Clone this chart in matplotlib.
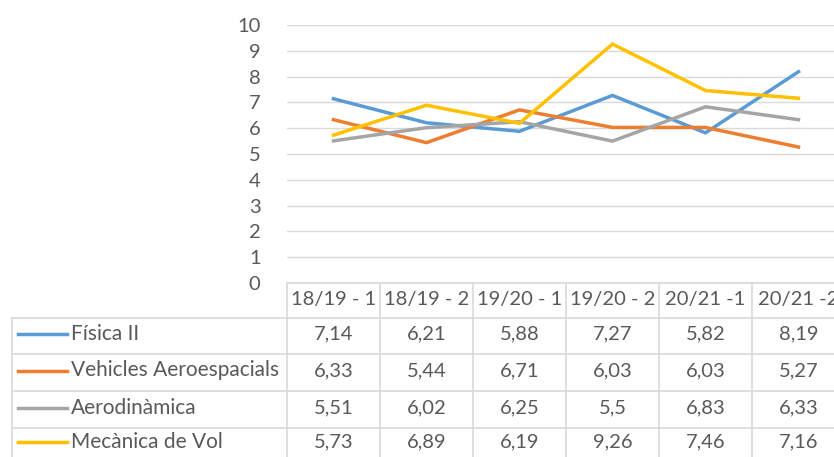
import matplotlib.pyplot as plt
from matplotlib.transforms import blended_transform_factory

periods = ["18/19 - 1", "18/19 - 2", "19/20 - 1", "19/20 - 2", "20/21 -1", "20/21 -2"]
fisica = [7.14, 6.21, 5.88, 7.27, 5.82, 8.19]
vehicles = [6.33, 5.44, 6.71, 6.03, 6.03, 5.27]
aerodinamica = [5.51, 6.02, 6.25, 5.5, 6.83, 6.33]
mecanica = [5.73, 6.89, 6.19, 9.26, 7.46, 7.16]
labels = ["Física II", "Vehicles Aeroespacials", "Aerodinàmica", "Mecànica de Vol"]
colors = ["#5B9BD5", "#ED7D31", "#A5A5A5", "#FFC000"]

plt.rcParams['font.family'] = ['Lato', 'DejaVu Sans']
txt_color = '#595959'
grid_color = '#D9D9D9'
W, H = 834, 457

fig = plt.figure(figsize=(W / 100, H / 100), dpi=100)

# plot area in pixels: x 287..845, y 25..283 (chart is cut on the right)
ax = fig.add_axes([287 / W, (H - 283) / H, (845 - 287) / W, (283 - 25) / H])
series = [fisica, vehicles, aerodinamica, mecanica]
x = range(len(periods))
for vals, c in zip(series, colors):
    ax.plot(x, vals, color=c, lw=2.5, solid_joinstyle='miter', zorder=3)

ax.set_xlim(-0.5, len(periods) - 0.5)
ax.set_ylim(0, 10)
ax.set_yticks(range(0, 11))
ax.yaxis.grid(True, color=grid_color, lw=1)
ax.set_axisbelow(True)
ax.set_xticks([])
for s in ax.spines.values():
    s.set_visible(False)
ax.tick_params(axis='y', length=0, pad=19, labelsize=14.5, labelcolor=txt_color)

# data table under the chart
def fy(p):
    return (H - p) / H

tr = blended_transform_factory(ax.transData, fig.transFigure)
row_edges = [283, 318, 354, 391, 428, 460]
n = len(periods)

# horizontal lines
ax.plot([-0.5, n - 0.5], [fy(row_edges[0])] * 2, transform=tr, color=grid_color, lw=1.2, clip_on=False)
for yp in row_edges[1:-1]:
    fig.add_artist(plt.Line2D([12 / W, 1.02], [fy(yp)] * 2, color=grid_color, lw=1.2))
# vertical lines
for i in range(n + 1):
    ax.plot([i - 0.5, i - 0.5], [fy(283), fy(470)], transform=tr, color=grid_color, lw=1.2, clip_on=False)
fig.add_artist(plt.Line2D([12 / W, 12 / W], [fy(318), fy(470)], color=grid_color, lw=1.2))

# header
for i, p in enumerate(periods):
    ax.text(i, fy((row_edges[0] + row_edges[1]) / 2 - 1), p, transform=tr, ha='center', va='center',
            fontsize=14.5, color=txt_color, clip_on=False)

# rows
for r, (name, vals, c) in enumerate(zip(labels, series, colors)):
    yc = fy((row_edges[r + 1] + row_edges[r + 2]) / 2 - 2)
    fig.add_artist(plt.Line2D([18 / W, 67 / W], [yc, yc], color=c, lw=2.5))
    fig.text(71 / W, yc, name, ha='left', va='center', fontsize=15, color=txt_color)
    for i, v in enumerate(vals):
        s = f"{v:g}".replace('.', ',')
        ax.text(i, yc, s, transform=tr, ha='center', va='center', fontsize=14.5,
                color=txt_color, clip_on=False)

fig.savefig('out.png', dpi=100)
